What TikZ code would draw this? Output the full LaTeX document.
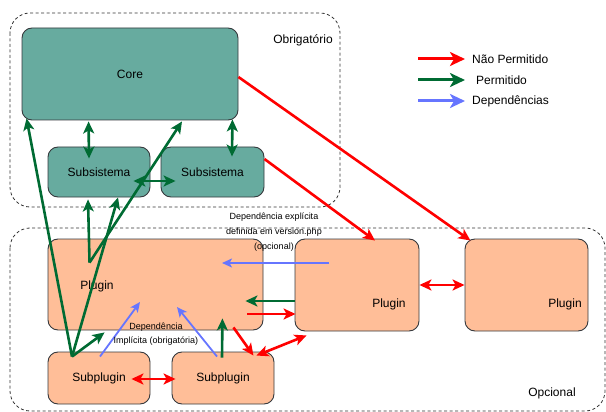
\documentclass[tikz,border=0pt]{standalone}
\usepackage{fontspec}
\setmainfont{Liberation Sans}
\usetikzlibrary{arrows.meta, calc, positioning}
\definecolor{coreteal}{HTML}{67AB9F}
\definecolor{pluginpeach}{HTML}{FFBE98}
\definecolor{edgegray}{HTML}{36393D}
\definecolor{okgreen}{HTML}{006B33}
\definecolor{nogored}{HTML}{FF0000}
\definecolor{depblue}{HTML}{6675FF}
\definecolor{muted}{HTML}{333333}
\tikzset{
  box/.style={rectangle, rounded corners=10pt, draw=edgegray,
              line width=0.9pt, font=\fontsize{12}{14}\selectfont},
  corebox/.style={box, fill=coreteal},
  plugbox/.style={box, fill=pluginpeach},
  zone/.style={draw=muted, dash pattern=on 3pt off 2.5pt,
               line width=0.8pt, rounded corners=20pt},
  lbl/.style={font=\fontsize{12}{14}\selectfont, inner sep=0pt},
  note/.style={font=\fontsize{9}{15}\selectfont, align=center, inner sep=0pt},
  okarrow/.style={->, draw=okgreen, line width=2.6pt},
  okboth/.style={okarrow, <->},
  noarrow/.style={->, draw=nogored, line width=2.6pt},
  noboth/.style={noarrow, <->},
  deparrow/.style={-{Stealth[length=10pt,width=9pt,inset=2.5pt]},
                   draw=depblue, line width=1.8pt},
  keyarrow/.style={-{Stealth[length=15pt,width=14pt,inset=4pt]}, line width=3pt},
}

\begin{document}
\begin{tikzpicture}[x=1pt, y=-1pt, >={Stealth[length=12pt,width=11pt,inset=3pt]}]
  \useasboundingbox (0,0) rectangle (606,412);

  %% Zones
  \draw[zone] (10,13) rectangle (340,207);
  \draw[zone] (10,228) rectangle (605,411);
  \node[lbl] (obrig) at (303,40) {Obrigatório};
  \node[lbl] (opc) at (552,393) {Opcional};

  %% Mandatory part
  \node[corebox, minimum width=216pt, minimum height=92pt] (core) at (130,74) {Core};
  \node[corebox, minimum width=102pt, minimum height=50pt] (subA) at (99,172) {Subsistema};
  \node[corebox, minimum width=103pt, minimum height=50pt] (subB) at (212.5,172) {Subsistema};

  %% Optional part
  \node[plugbox, minimum width=215pt, minimum height=91pt] (plugA) at (155.5,284.5) {};
  \node[lbl] (plugAtxt) at (97,286) {Plugin};
  \node[plugbox, minimum width=124pt, minimum height=92pt] (plugB) at (357,285) {};
  \node[lbl] (plugBtxt) at (389,304) {Plugin};
  \node[plugbox, minimum width=123pt, minimum height=92pt] (plugC) at (526.5,285) {};
  \node[lbl] (plugCtxt) at (565,304) {Plugin};
  \node[plugbox, minimum width=102pt, minimum height=52pt] (subpA) at (99,378) {Subplugin};
  \node[plugbox, minimum width=102pt, minimum height=52pt] (subpB) at (223,378) {Subplugin};

  %% Legend
  \node[lbl, anchor=west] (keyNo) at (472,59) {Não Permitido};
  \node[lbl, anchor=west] (keyOk) at (476,80) {Permitido};
  \node[lbl, anchor=west] (keyDep) at (472,101) {Dependências};
  \draw[keyarrow, draw=nogored] ($(keyNo.west)+(-54,0)$) -- ($(keyNo.west)+(-7,0)$);
  \draw[keyarrow, draw=okgreen] ($(keyOk.west)+(-58,0)$) -- ($(keyOk.west)+(-11,0)$);
  \draw[keyarrow, draw=depblue] ($(keyDep.west)+(-54,0)$) -- ($(keyDep.west)+(-7,0)$);

  %% Permitted (green)
  \draw[okboth] ($(core.south west)+(67,1)$) -- ($(subA.north)+(-10,12)$);
  \draw[okboth] ($(core.south east)+(-6,-1)$) -- ($(subB.north)+(19.5,10)$);
  \draw[okboth] ($(subA.east)+(-17,9)$) -- ($(subB.west)+(15,9)$);
  \coordinate (spAtop) at ($(subpA.north)+(-27,5)$);
  \coordinate (plugAfoot) at ($(plugA.north west)+(42,24)$);
  \draw[okarrow] (spAtop) -- ($(core.south west)+(5,-2)$);
  \draw[okarrow] (spAtop) -- ($(subA.south)+(19,0)$);
  \draw[okarrow] (spAtop) -- ($(plugA.south west)+(57,2)$);
  \draw[okarrow] (plugAfoot) -- ($(subA.south)+(-11,2)$);
  \draw[okarrow] (plugAfoot) -- ($(core.south)+(52,1)$);
  \draw[okarrow] ($(subpB.north)+(-1,6)$) -- ($(plugA.south east)+(-41,-12)$);
  \draw[okarrow] ($(plugB.west)+(0,16)$) -- ($(plugA.east)+(-18,16.5)$);

  %% Not permitted (red)
  \draw[noarrow] ($(core.east)+(0,3)$) -- ($(plugC.north)+(-56,2)$);
  \draw[noarrow] ($(subB.east)+(0,-13)$) -- ($(plugB.north)+(18,2)$);
  \draw[noarrow] ($(plugA.east)+(-16,29.5)$) -- ($(plugB.west)+(1,29)$);
  \draw[noarrow] ($(plugA.south east)+(-30,-3)$) -- ($(subpB.north east)+(-21,4)$);
  \draw[noboth] ($(subpB.north east)+(-18,4)$) -- ($(plugB.south west)+(12,4)$);
  \draw[noboth] ($(subpA.east)+(-19,1)$) -- ($(subpB.west)+(4,1)$);
  \draw[noboth] (plugB.east) -- (plugC.west);

  %% Dependencies (blue)
  \draw[deparrow] ($(plugB.center)+(-28,-22)$) -- ($(plugA.center)+(66.5,-21.5)$);
  \draw[deparrow] ($(subpA.north)+(1,5)$) -- ($(plugA.center)+(-15.5,17.5)$);
  \draw[deparrow] ($(subpB.north)+(-6,5)$) -- ($(plugA.center)+(21.5,22.5)$);

  %% Notes
  \node[note] (explnote) at (274,232) {Dependência explícita\\definida em version.php\\(opcional)};
  \node[note, font=\fontsize{9}{14}\selectfont] (implnote) at (156,334) {Dependência\\Implícita (obrigatória)};
\end{tikzpicture}
\end{document}
